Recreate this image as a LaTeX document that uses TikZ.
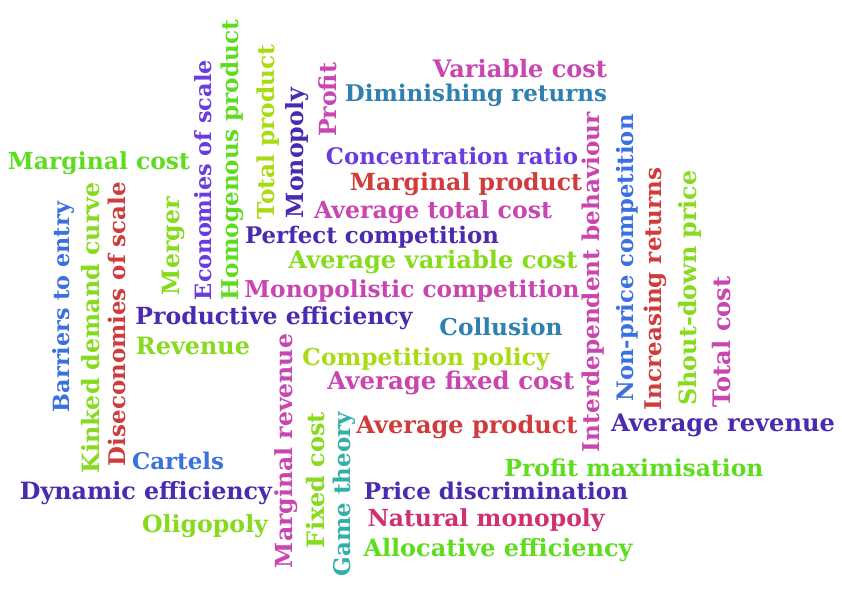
\documentclass[tikz,border=0pt]{standalone}
\usepackage{fontspec}
\setmainfont{DejaVu Serif}
\usepackage{graphicx}
\definecolor{cMag}{HTML}{C945B0}
\definecolor{cTeal}{HTML}{2E80B0}
\definecolor{cGreen}{HTML}{5EDC1E}
\definecolor{cLime}{HTML}{86DC1C}
\definecolor{cYel}{HTML}{A8DC10}
\definecolor{cPur}{HTML}{6A3BE0}
\definecolor{cDPur}{HTML}{4A2AB0}
\definecolor{cRed}{HTML}{D03B3B}
\definecolor{cBlue}{HTML}{3A70E0}
\definecolor{cPink}{HTML}{D03070}
\definecolor{cCyan}{HTML}{30B0A8}
\newcommand\wh[6]{\node[text=#5,rotate=#6] (#1) at (#2) {\resizebox{#4pt}{!}{\bfseries #3}};}
\begin{document}
\begin{tikzpicture}[x=0.75pt,y=-0.75pt,inner sep=0pt]
\useasboundingbox[fill=white] (0,0) rectangle (842,595);
\wh{a1}{520,69}{Variable cost}{130.5}{cMag}{0}
\wh{a2}{476,95}{Diminishing returns}{196.5}{cTeal}{0}
\wh{a3}{99,163}{Marginal cost}{136.5}{cGreen}{0}
\wh{a4}{452,156}{Concentration ratio}{189}{cPur}{0}
\wh{a5}{466,184}{Marginal product}{174}{cRed}{0}
\wh{a6}{433,212}{Average total cost}{178.5}{cMag}{0}
\wh{a7}{372,237}{Perfect competition}{190.5}{cDPur}{0}
\wh{a8}{433,262}{Average variable cost}{216.75}{cLime}{0}
\wh{a9}{412,291}{Monopolistic competition}{251.25}{cMag}{0}
\wh{a10}{274,318}{Productive efficiency}{207.75}{cDPur}{0}
\wh{a11}{501,327}{Collusion}{92.25}{cTeal}{0}
\wh{a12}{193,346}{Revenue}{85.5}{cLime}{0}
\wh{a13}{426,359}{Competition policy}{185.25}{cYel}{0}
\wh{a14}{451,383}{Average fixed cost}{185.25}{cMag}{0}
\wh{a15}{467,427}{Average product}{165.75}{cRed}{0}
\wh{a16}{723,425}{Average revenue}{168}{cDPur}{0}
\wh{a17}{178,461}{Cartels}{69}{cBlue}{0}
\wh{a18}{634,468}{Profit maximisation}{194.25}{cGreen}{0}
\wh{a19}{146,493}{Dynamic efficiency}{189}{cDPur}{0}
\wh{a20}{496,491}{Price discrimination}{198}{cDPur}{0}
\wh{a21}{205,526}{Oligopoly}{94.5}{cLime}{0}
\wh{a22}{486,520}{Natural monopoly}{177.75}{cPink}{0}
\wh{a23}{498,550}{Allocative efficiency}{201.75}{cGreen}{0}
\wh{v1}{203,180}{Economies of scale}{180}{cPur}{90}
\wh{v2}{232,160}{Homogenous product}{210}{cGreen}{90}
\wh{v3}{268,132}{Total product}{131.25}{cYel}{90}
\wh{v4}{297,153}{Monopoly}{97.5}{cDPur}{90}
\wh{v5}{328,100}{Profit}{55.5}{cMag}{90}
\wh{v6}{173,246}{Merger}{73.5}{cLime}{90}
\wh{v7}{64,307}{Barriers to entry}{157.5}{cBlue}{90}
\wh{v8}{91,328}{Kinked demand curve}{218.25}{cLime}{90}
\wh{v9}{117,324}{Diseconomies of scale}{213}{cRed}{90}
\wh{v10}{286,451}{Marginal revenue}{175.5}{cMag}{90}
\wh{v11}{316,480}{Fixed cost}{102}{cLime}{90}
\wh{v12}{344,494}{Game theory}{123}{cCyan}{90}
\wh{v13}{593,282}{Interdependent behaviour}{255}{cMag}{90}
\wh{v14}{627,258}{Non-price competition}{215.25}{cBlue}{90}
\wh{v15}{655,289}{Increasing returns}{181.5}{cRed}{90}
\wh{v16}{690,288}{Shout-down price}{176.25}{cLime}{90}
\wh{v17}{722,342}{Total cost}{98.25}{cMag}{90}
\end{tikzpicture}
\end{document}
